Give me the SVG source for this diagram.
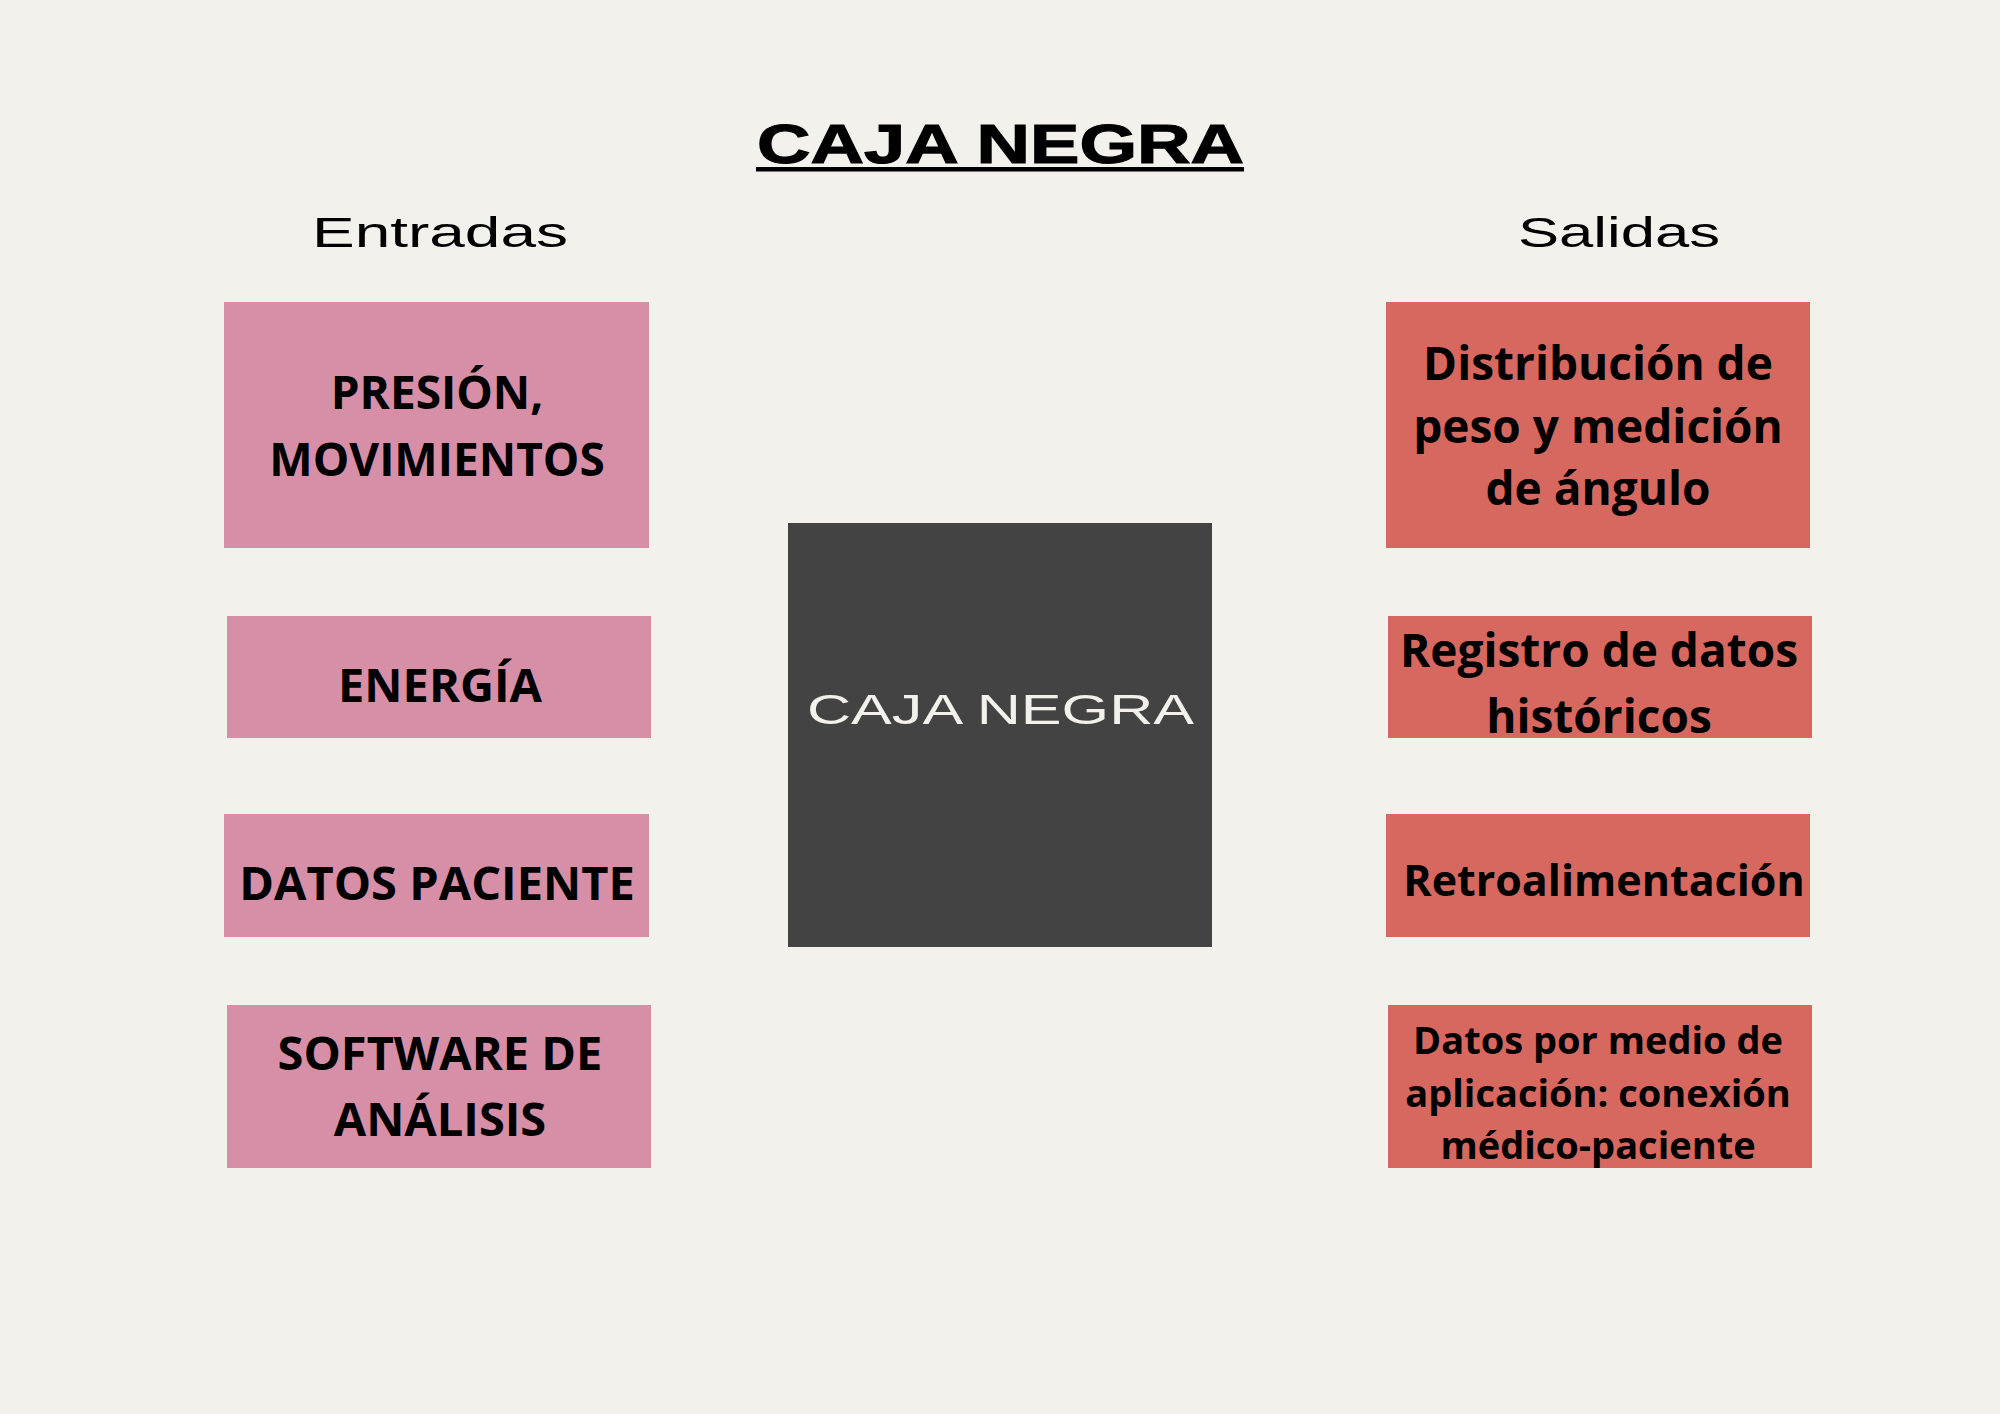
<svg xmlns="http://www.w3.org/2000/svg" width="2000" height="1414" viewBox="0 0 2000 1414">
  <defs>
    <style>
      .bg { fill: #f3f1ec; }
      .in { fill: #d78fa8; }
      .out { fill: #d7685f; }
      .core { fill: #434343; }
      .lbl { font-family: "Open Sans", "Liberation Sans", sans-serif; font-weight: bold; fill: #000000; text-anchor: middle; }
      .wide { font-family: "Liberation Sans", Arial, sans-serif; }
    </style>
  </defs>
  <rect class="bg" x="0" y="0" width="2000" height="1414"/>

  <g id="title">
    <text class="wide" x="757" y="163" font-size="56" font-weight="bold" fill="#000" stroke="#000" stroke-width="1.2" textLength="487" lengthAdjust="spacingAndGlyphs">CAJA NEGRA</text>
    <rect x="756" y="167" width="488" height="4.5" fill="#000"/>
  </g>
  <g id="heading-entradas">
    <text class="wide" x="312" y="247" font-size="43" fill="#000" textLength="256" lengthAdjust="spacingAndGlyphs">Entradas</text>
  </g>
  <g id="heading-salidas">
    <text class="wide" x="1518" y="247" font-size="43" fill="#000" textLength="202" lengthAdjust="spacingAndGlyphs">Salidas</text>
  </g>

  <g id="connectors"></g>

  <g id="in-presion">
    <rect class="in" x="224" y="302" width="425" height="246"/>
    <text class="lbl" font-size="46" x="437" y="409">PRESIÓN,</text>
    <text class="lbl" font-size="46" x="437" y="476">MOVIMIENTOS</text>
  </g>
  <g id="in-energia">
    <rect class="in" x="227" y="616" width="424" height="122"/>
    <text class="lbl" font-size="47" x="440" y="702">ENERGÍA</text>
  </g>
  <g id="in-datos">
    <rect class="in" x="224" y="814" width="425" height="123"/>
    <text class="lbl" font-size="47" x="437" y="900">DATOS PACIENTE</text>
  </g>
  <g id="in-software">
    <rect class="in" x="227" y="1005" width="424" height="163"/>
    <text class="lbl" font-size="47" x="440" y="1070">SOFTWARE DE</text>
    <text class="lbl" font-size="47" x="440" y="1136">ANÁLISIS</text>
  </g>

  <g id="caja-negra">
    <rect class="core" x="788" y="523" width="424" height="424"/>
    <text class="wide" x="807" y="724" font-size="43" fill="#f3f1ec" textLength="387" lengthAdjust="spacingAndGlyphs">CAJA NEGRA</text>
  </g>

  <g id="out-distribucion">
    <rect class="out" x="1386" y="302" width="424" height="246"/>
    <text class="lbl" font-size="46" x="1598" y="380">Distribución de</text>
    <text class="lbl" font-size="46" x="1598" y="443">peso y medición</text>
    <text class="lbl" font-size="46" x="1598" y="505">de ángulo</text>
  </g>
  <g id="out-registro">
    <rect class="out" x="1388" y="616" width="424" height="122"/>
    <text class="lbl" font-size="46" x="1599" y="667">Registro de datos</text>
    <text class="lbl" font-size="46" x="1599" y="733">históricos</text>
  </g>
  <g id="out-retro">
    <rect class="out" x="1386" y="814" width="424" height="123"/>
    <text class="lbl" font-size="43" x="1604" y="896">Retroalimentación</text>
  </g>
  <g id="out-app">
    <rect class="out" x="1388" y="1005" width="424" height="163"/>
    <text class="lbl" font-size="38" x="1598" y="1054">Datos por medio de</text>
    <text class="lbl" font-size="38" x="1598" y="1107">aplicación: conexión</text>
    <text class="lbl" font-size="38" x="1598" y="1159">médico-paciente</text>
  </g>
</svg>
